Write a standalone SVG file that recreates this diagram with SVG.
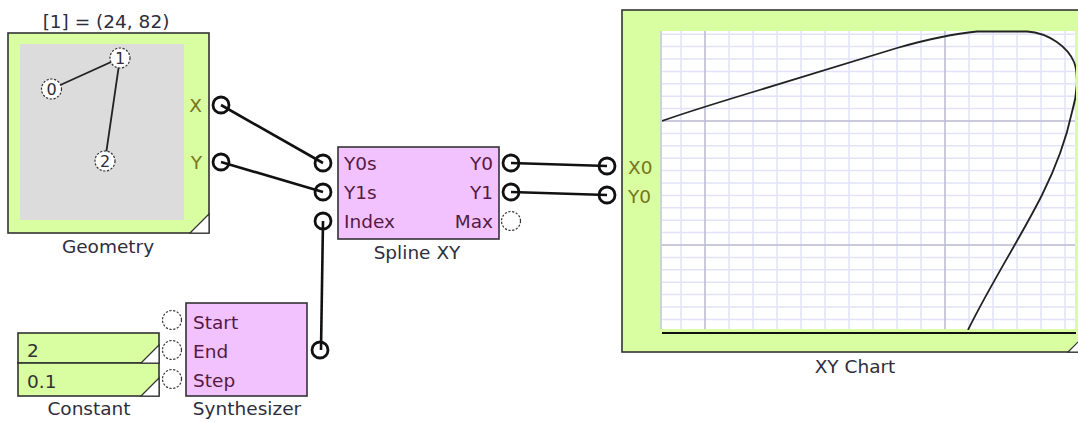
<svg xmlns="http://www.w3.org/2000/svg" width="1078" height="422" viewBox="0 0 1078 422">
<style>
.box{stroke:#333;stroke-width:1.6}
.green{fill:#d9fda1}
.pink{fill:#f2c2fe}
.t{font-family:"DejaVu Sans","Verdana",sans-serif;font-size:18.5px}
.lbl{fill:#2e2e3c}
.pl{fill:#541a44}
.gl{fill:#76761a}
.cp{fill:#fff;stroke:#111;stroke-width:2.8}
.up{fill:#fff;stroke:#333;stroke-width:1.2;stroke-dasharray:2.2 1.6}
.wire{fill:none;stroke:#111;stroke-width:2.6}
.tri{fill:#fff;stroke:#333;stroke-width:1.2}
.gmin{stroke:#e2e2fb;stroke-width:1.5}
.gmaj{stroke:#b9b9d0;stroke-width:1.5}
</style>
<defs>
<clipPath id="plotclip"><rect x="662" y="30" width="414" height="300"/></clipPath>
</defs>
<rect width="1078" height="422" fill="#fff"/>

<g id="geometry">
<text class="t lbl" x="106" y="28" text-anchor="middle">[1] = (24, 82)</text>
<rect class="box green" x="8" y="33" width="201" height="200"/>
<rect x="20" y="44" width="164" height="176" fill="#dcdcdc"/>
<polygon class="tri" points="190,233 209,233 209,214"/>
<polyline points="51.5,89 120,58 105,161" fill="none" stroke="#222" stroke-width="1.8"/>
<circle class="up" cx="51.5" cy="89" r="10"/>
<circle class="up" cx="120" cy="58" r="10"/>
<circle class="up" cx="105" cy="161" r="10"/>
<text class="lbl" x="51.5" y="95" text-anchor="middle" font-family="DejaVu Sans, sans-serif" font-size="16">0</text>
<text class="lbl" x="120" y="64" text-anchor="middle" font-family="DejaVu Sans, sans-serif" font-size="16">1</text>
<text class="lbl" x="105" y="167" text-anchor="middle" font-family="DejaVu Sans, sans-serif" font-size="16">2</text>
<text class="t gl" x="202" y="112" text-anchor="end">X</text>
<text class="t gl" x="202" y="169" text-anchor="end">Y</text>
<circle class="cp" cx="221" cy="105" r="8"/>
<circle class="cp" cx="221" cy="162" r="8"/>
<text class="t lbl" x="108" y="253" text-anchor="middle">Geometry</text>
</g>

<g id="spline">
<rect class="box pink" x="338" y="147" width="161" height="92"/>
<text class="t pl" x="344" y="170">Y0s</text>
<text class="t pl" x="344" y="199">Y1s</text>
<text class="t pl" x="344" y="228">Index</text>
<text class="t pl" x="493" y="170" text-anchor="end">Y0</text>
<text class="t pl" x="493" y="199" text-anchor="end">Y1</text>
<text class="t pl" x="493" y="228" text-anchor="end">Max</text>
<circle class="cp" cx="323" cy="163" r="8"/>
<circle class="cp" cx="323" cy="192" r="8"/>
<circle class="cp" cx="323" cy="221" r="8"/>
<circle class="cp" cx="511" cy="163" r="8"/>
<circle class="cp" cx="511" cy="192" r="8"/>
<circle class="up" cx="511" cy="221" r="9.5"/>
<text class="t lbl" x="417" y="259" text-anchor="middle">Spline XY</text>
</g>

<g id="constant">
<rect class="box green" x="18" y="333" width="141" height="30"/>
<rect class="box green" x="18" y="363" width="141" height="33"/>
<polygon class="tri" points="159,345 159,363 141,363"/>
<polygon class="tri" points="159,378 159,396 141,396"/>
<text class="t" fill="#333" x="27" y="357">2</text>
<text class="t" fill="#333" x="27" y="388">0.1</text>
<text class="t lbl" x="89" y="415" text-anchor="middle">Constant</text>
</g>

<g id="synthesizer">
<rect class="box pink" x="186" y="303" width="121" height="93"/>
<text class="t pl" x="193" y="329">Start</text>
<text class="t pl" x="193" y="358">End</text>
<text class="t pl" x="193" y="387">Step</text>
<circle class="up" cx="172" cy="320" r="9.5"/>
<circle class="up" cx="172" cy="350" r="9.5"/>
<circle class="up" cx="172" cy="379" r="9.5"/>
<circle class="cp" cx="320" cy="350" r="8"/>
<text class="t lbl" x="247" y="415" text-anchor="middle">Synthesizer</text>
</g>

<g id="xychart">
<rect class="box green" x="622" y="10" width="466" height="342"/>
<rect x="662" y="31" width="413" height="298" fill="#fff"/>
<g>
<line class="gmin" x1="681" y1="31" x2="681" y2="329"/>
<line class="gmin" x1="729" y1="31" x2="729" y2="329"/>
<line class="gmin" x1="753" y1="31" x2="753" y2="329"/>
<line class="gmin" x1="777" y1="31" x2="777" y2="329"/>
<line class="gmin" x1="801" y1="31" x2="801" y2="329"/>
<line class="gmin" x1="825" y1="31" x2="825" y2="329"/>
<line class="gmin" x1="849" y1="31" x2="849" y2="329"/>
<line class="gmin" x1="873" y1="31" x2="873" y2="329"/>
<line class="gmin" x1="897" y1="31" x2="897" y2="329"/>
<line class="gmin" x1="921" y1="31" x2="921" y2="329"/>
<line class="gmin" x1="969" y1="31" x2="969" y2="329"/>
<line class="gmin" x1="993" y1="31" x2="993" y2="329"/>
<line class="gmin" x1="1017" y1="31" x2="1017" y2="329"/>
<line class="gmin" x1="1041" y1="31" x2="1041" y2="329"/>
<line class="gmin" x1="1065" y1="31" x2="1065" y2="329"/>
<line class="gmin" x1="662" y1="34.2" x2="1075" y2="34.2"/>
<line class="gmin" x1="662" y1="46.6" x2="1075" y2="46.6"/>
<line class="gmin" x1="662" y1="59" x2="1075" y2="59"/>
<line class="gmin" x1="662" y1="71.4" x2="1075" y2="71.4"/>
<line class="gmin" x1="662" y1="83.8" x2="1075" y2="83.8"/>
<line class="gmin" x1="662" y1="96.2" x2="1075" y2="96.2"/>
<line class="gmin" x1="662" y1="108.6" x2="1075" y2="108.6"/>
<line class="gmin" x1="662" y1="133.4" x2="1075" y2="133.4"/>
<line class="gmin" x1="662" y1="145.8" x2="1075" y2="145.8"/>
<line class="gmin" x1="662" y1="158.2" x2="1075" y2="158.2"/>
<line class="gmin" x1="662" y1="170.6" x2="1075" y2="170.6"/>
<line class="gmin" x1="662" y1="183" x2="1075" y2="183"/>
<line class="gmin" x1="662" y1="195.4" x2="1075" y2="195.4"/>
<line class="gmin" x1="662" y1="207.8" x2="1075" y2="207.8"/>
<line class="gmin" x1="662" y1="220.2" x2="1075" y2="220.2"/>
<line class="gmin" x1="662" y1="232.6" x2="1075" y2="232.6"/>
<line class="gmin" x1="662" y1="257.4" x2="1075" y2="257.4"/>
<line class="gmin" x1="662" y1="269.8" x2="1075" y2="269.8"/>
<line class="gmin" x1="662" y1="282.2" x2="1075" y2="282.2"/>
<line class="gmin" x1="662" y1="294.6" x2="1075" y2="294.6"/>
<line class="gmin" x1="662" y1="307" x2="1075" y2="307"/>
<line class="gmin" x1="662" y1="319.4" x2="1075" y2="319.4"/>
<line class="gmaj" x1="705" y1="31" x2="705" y2="329"/>
<line class="gmaj" x1="945" y1="31" x2="945" y2="329"/>
<line class="gmaj" x1="662" y1="121" x2="1075" y2="121"/>
<line class="gmaj" x1="662" y1="245" x2="1075" y2="245"/>
</g>
<line x1="661" y1="31" x2="661" y2="329" stroke="#c8c8d8" stroke-width="1.5"/>
<path clip-path="url(#plotclip)" fill="none" stroke="#222" stroke-width="1.8" stroke-linejoin="round" d="M662,121 C690,111 730,99 753,92 C790,81 840,65 897,48 C925,40 950,34 977,31.5 L1027,31.5 C1050,33 1068,48 1074,62 C1079,75 1077,95 1072,112 C1066,140 1057,165 1042,195 C1022,235 990,285 968,330"/>
<line x1="662" y1="333" x2="1076" y2="333" stroke="#111" stroke-width="2"/>
<polygon class="tri" points="1068,352 1088,352 1088,332"/>
<text class="t gl" x="628" y="174">X0</text>
<text class="t gl" x="628" y="203">Y0</text>
<circle class="cp" cx="607" cy="166" r="8"/>
<circle class="cp" cx="607" cy="195" r="8"/>
<text class="t lbl" x="855" y="373" text-anchor="middle">XY Chart</text>
</g>

<g id="connectors">
<line class="wire" x1="221" y1="105" x2="323" y2="163"/>
<line class="wire" x1="221" y1="162" x2="323" y2="192"/>
<line class="wire" x1="323" y1="221" x2="321" y2="350"/>
<line class="wire" x1="511" y1="163" x2="607" y2="166"/>
<line class="wire" x1="511" y1="192" x2="607" y2="195"/>
</g>
</svg>
